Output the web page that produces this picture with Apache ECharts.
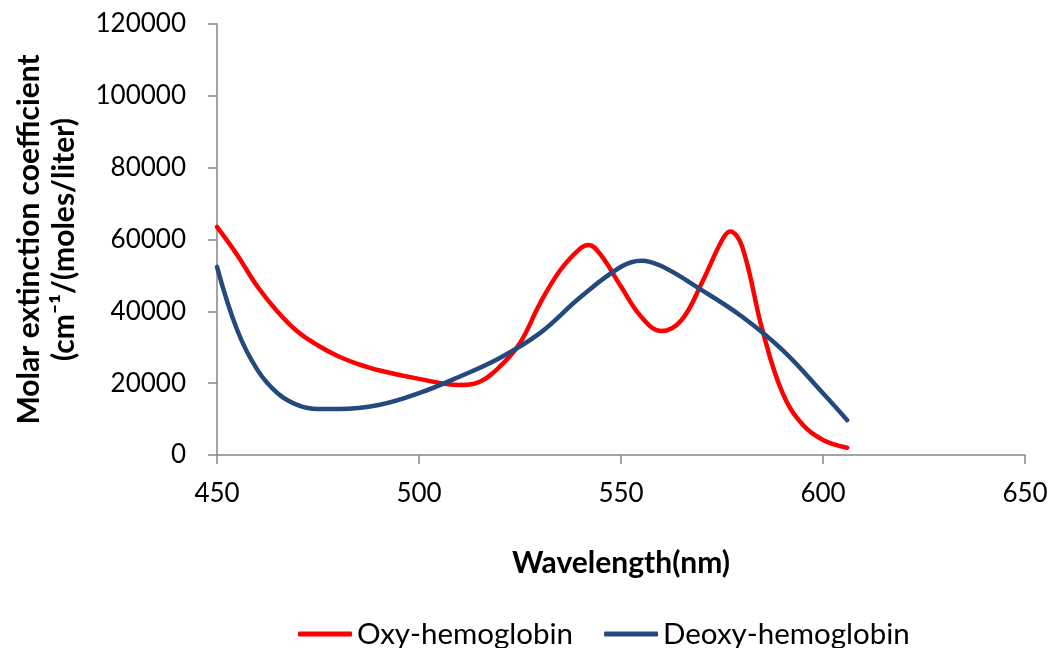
<!DOCTYPE html>
<html>
<head>
	<meta charset="utf-8"/>
	<title>Hemoglobin absorption</title>
	<style type="text/css">
		html,body{
			margin: 0;
			padding: 0;
			background: #fff;
		}
		#chart{
			width: 1055px;
			height: 648px;
		}
	</style>
</head>
<body>
	<div id="chart"></div>

	<script src="https://cdn.jsdelivr.net/npm/echarts@6/dist/echarts.min.js"></script>
	<script type="text/javascript">

		// wavelength (nm) and values
		var oxyWave = [450, 455, 460, 465, 470, 475, 480, 485, 490, 500, 510, 515, 520, 525, 530, 535, 540, 542, 545, 550, 555, 560, 565, 570, 575, 577, 580, 585, 590, 595, 600, 606];
		var oxyValue = [63500, 55700, 46900, 39900, 34300, 30500, 27500, 25300, 23600, 21200, 19500, 20400, 24600, 31200, 42300, 51500, 57600, 58500, 55700, 46900, 38500, 34500, 37600, 47900, 59800, 62200, 58000, 34800, 17200, 8400, 4200, 2000];

		var deoxyWave = [450, 455, 460, 465, 470, 475, 480, 490, 500, 510, 520, 530, 540, 550, 555, 560, 570, 580, 590, 600, 606];
		var deoxyValue = [52400, 34800, 23700, 17200, 13900, 12800, 12800, 13900, 17200, 21800, 27000, 34000, 44000, 52400, 54100, 52600, 45900, 38500, 29200, 17200, 9700];

		var seriesNames = ['Oxy-hemoglobin', 'Deoxy-hemoglobin'];
		var seriesColors = ['#ff0000', '#24497d'];

		function pairs(xs, ys){
			var out = [];
			for(var i=0;i<xs.length;i++){
				out.push([xs[i], ys[i]]);
			}
			return out;
		}

		function plain(v){
			return String(v);
		}

		var font = 'Lato, "Open Sans", sans-serif';
		var axisGrey = '#868686';

		var chart = echarts.init(document.getElementById('chart'));

		var option = {
			animation: false,
			backgroundColor: '#ffffff',
			textStyle: { fontFamily: font, color: '#000' },
			grid: { left: 217, right: 30, top: 24, bottom: 193, containLabel: false, outerBoundsMode: 'none' },
			legend: {
				top: 614,
				left: 293,
				itemWidth: 54,
				itemHeight: 5,
				itemGap: 31,
				icon: 'roundRect',
				textStyle: { fontSize: 29.5, color: '#000', fontFamily: font },
				data: seriesNames
			},
			xAxis: {
				type: 'value',
				min: 450,
				max: 650,
				interval: 50,
				name: 'Wavelength(nm)',
				nameLocation: 'middle',
				nameGap: 93,
				nameTextStyle: { fontSize: 30, fontWeight: 'bold', color: '#000' },
				axisLine: { lineStyle: { color: axisGrey, width: 1.5 } },
				axisTick: { inside: false, length: 9, lineStyle: { color: axisGrey, width: 1.5 } },
				axisLabel: { fontSize: 26, color: '#000', margin: 26, formatter: plain },
				splitLine: { show: false }
			},
			yAxis: {
				type: 'value',
				min: 0,
				max: 120000,
				interval: 20000,
				name: 'Molar extinction coefficient\n(cm\u207B\u00B9/(moles/liter)',
				nameLocation: 'middle',
				nameGap: 135,
				nameTextStyle: { fontSize: 30, fontWeight: 'bold', color: '#000', lineHeight: 35 },
				axisLine: { show: true, lineStyle: { color: axisGrey, width: 1.5 } },
				axisTick: { show: true, inside: false, length: 9, lineStyle: { color: axisGrey, width: 1.5 } },
				axisLabel: { fontSize: 26, color: '#000', margin: 31, formatter: plain },
				splitLine: { show: false }
			},
			series: [
				{
					name: seriesNames[0],
					type: 'line',
					smooth: 0.4,
					showSymbol: false,
					color: seriesColors[0],
					lineStyle: { width: 4.5, color: seriesColors[0], cap: 'round' },
					data: pairs(oxyWave, oxyValue)
				},
				{
					name: seriesNames[1],
					type: 'line',
					smooth: 0.4,
					showSymbol: false,
					color: seriesColors[1],
					lineStyle: { width: 4.5, color: seriesColors[1], cap: 'round' },
					data: pairs(deoxyWave, deoxyValue)
				}
			]
		};

		chart.setOption(option);

	</script>
</body>
</html>
